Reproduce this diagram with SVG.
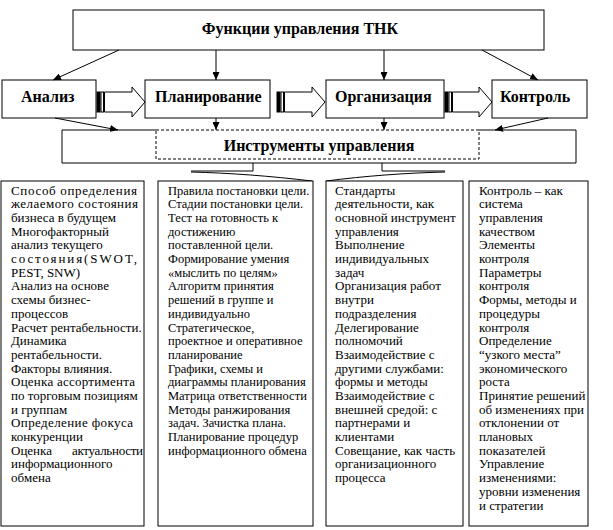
<svg xmlns="http://www.w3.org/2000/svg" width="613" height="530" viewBox="0 0 613 530">
<defs>
<marker id="ah" markerUnits="userSpaceOnUse" markerWidth="8" markerHeight="7" refX="8" refY="3.5" orient="auto">
<path d="M0,0 L8,3.5 L0,7 z" fill="#000"/>
</marker>
<style>
.box{fill:#fff;stroke:#000;stroke-width:1}
.ln{fill:none;stroke:#000;stroke-width:1}
.arr{fill:none;stroke:#000;stroke-width:1;marker-end:url(#ah)}
.h{font-weight:bold;font-size:16px;fill:#000}
.t{font-size:13px;fill:#000}
.t2{font-size:12.5px;fill:#000}
.blk{fill:#000;stroke:#000;stroke-width:1}
</style>
</defs>
<rect width="613" height="530" fill="#fff"/>

<g font-family="'Liberation Serif', 'DejaVu Serif', serif">
<g id="title">
<rect class="box" x="73" y="10" width="471" height="40"/>
<text class="h" x="300" y="34" text-anchor="middle">Функции управления ТНК</text>
</g>

<g id="analiz">
<rect class="box" x="2" y="80" width="94" height="38"/>
<text class="h" x="21" y="102">Анализ</text>
</g>
<g id="planirovanie">
<rect class="box" x="145" y="80" width="125" height="38"/>
<text class="h" x="155" y="102">Планирование</text>
</g>
<g id="organizaciya">
<rect class="box" x="326" y="80" width="118" height="38"/>
<text class="h" x="335" y="102">Организация</text>
</g>
<g id="kontrol">
<rect class="box" x="492" y="80" width="95" height="38"/>
<text class="h" x="500" y="102">Контроль</text>
</g>

<g id="instrumenty">
<path class="ln" d="M156,130 H62 V163 H576 V130 H479"/>
<rect x="156" y="130" width="323" height="29" fill="#fff" stroke="#000" stroke-width="1" stroke-dasharray="3 2"/>
<text class="h" x="319" y="151" text-anchor="middle">Инструменты управления</text>
</g>

<g id="connectors">
<line class="arr" x1="119" y1="50" x2="53" y2="80"/>
<line class="arr" x1="216" y1="50" x2="216" y2="80"/>
<line class="arr" x1="384" y1="50" x2="384" y2="80"/>
<line class="arr" x1="482" y1="50" x2="538" y2="80"/>
<line class="arr" x1="55" y1="118" x2="118" y2="130"/>
<line class="arr" x1="216" y1="118" x2="216" y2="130"/>
<line class="arr" x1="384" y1="118" x2="384" y2="130"/>
<line class="arr" x1="548" y1="118" x2="495" y2="130"/>
<g id="striped1">
<rect class="blk" x="97" y="92" width="3" height="20"/>
<rect class="box" x="101" y="92" width="2.5" height="20"/>
<path class="box" d="M104.5,92 H132 V87 L145,102 L132,117 V112 H104.5 Z"/>
</g>
<g id="striped2">
<rect class="blk" x="277" y="92" width="3" height="20"/>
<rect class="box" x="281" y="92" width="2.5" height="20"/>
<path class="box" d="M284.5,92 H312 V87 L325,102 L312,117 V112 H284.5 Z"/>
</g>
<g id="striped3">
<rect class="blk" x="445" y="92" width="3" height="20"/>
<rect class="box" x="449" y="92" width="2.5" height="20"/>
<path class="box" d="M452.5,92 H479 V87 L492,102 L479,117 V112 H452.5 Z"/>
</g>
<path class="ln" d="M253,163 V171 H191 M191,172 C230,173 270,176 312,181"/>
<path class="ln" d="M382,163 V171 H445 M445,172 C405,173 365,176 326,181"/>
</g>

<g id="col1">
<rect class="box" x="1" y="181" width="143" height="345"/>
<text class="t" x="11" y="194.5"><tspan x="11" textLength="126" lengthAdjust="spacing">Способ определения</tspan><tspan x="11" dy="13.7" textLength="127" lengthAdjust="spacing">желаемого состояния</tspan><tspan x="11" dy="13.7">бизнеса в будущем</tspan><tspan x="11" dy="13.7">Многофакторный</tspan><tspan x="11" dy="13.7">анализ текущего</tspan><tspan x="11" dy="13.7" textLength="126" lengthAdjust="spacing">состояния(SWOT,</tspan><tspan x="11" dy="13.7">PEST, SNW)</tspan><tspan x="11" dy="13.7">Анализ на основе</tspan><tspan x="11" dy="13.7">схемы бизнес-</tspan><tspan x="11" dy="13.7">процессов</tspan><tspan x="11" dy="13.7">Расчет рентабельности.</tspan><tspan x="11" dy="13.7">Динамика</tspan><tspan x="11" dy="13.7">рентабельности.</tspan><tspan x="11" dy="13.7">Факторы влияния.</tspan><tspan x="11" dy="13.7" textLength="124" lengthAdjust="spacing">Оценка ассортимента</tspan><tspan x="11" dy="13.7">по торговым позициям</tspan><tspan x="11" dy="13.7">и группам</tspan><tspan x="11" dy="13.7" textLength="122" lengthAdjust="spacing">Определение фокуса</tspan><tspan x="11" dy="13.7">конкуренции</tspan><tspan x="11" dy="13.7">Оценка </tspan><tspan x="72" textLength="71" lengthAdjust="spacing">актуальности</tspan><tspan x="11" dy="13.7">информационного</tspan><tspan x="11" dy="13.7">обмена</tspan></text>
</g>

<g id="col2">
<rect class="box" x="158" y="181" width="155" height="345"/>
<text class="t2" x="168" y="194.5"><tspan x="168">Правила постановки цели.</tspan><tspan x="168" dy="13.7">Стадии постановки цели.</tspan><tspan x="168" dy="13.7">Тест на готовность к</tspan><tspan x="168" dy="13.7">достижению</tspan><tspan x="168" dy="13.7">поставленной цели.</tspan><tspan x="168" dy="13.7">Формирование умения</tspan><tspan x="168" dy="13.7">«мыслить по целям»</tspan><tspan x="168" dy="13.7">Алгоритм принятия</tspan><tspan x="168" dy="13.7">решений в группе и</tspan><tspan x="168" dy="13.7">индивидуально</tspan><tspan x="168" dy="13.7">Стратегическое,</tspan><tspan x="168" dy="13.7">проектное и оперативное</tspan><tspan x="168" dy="13.7">планирование</tspan><tspan x="168" dy="13.7">Графики, схемы и</tspan><tspan x="168" dy="13.7">диаграммы планирования</tspan><tspan x="168" dy="13.7">Матрица ответственности</tspan><tspan x="168" dy="13.7">Методы ранжирования</tspan><tspan x="168" dy="13.7">задач. Зачистка плана.</tspan><tspan x="168" dy="13.7">Планирование процедур</tspan><tspan x="168" dy="13.7">информационного обмена</tspan></text>
</g>

<g id="col3">
<rect class="box" x="326" y="181" width="137" height="345"/>
<text class="t" x="335" y="194.5"><tspan x="335">Стандарты</tspan><tspan x="335" dy="13.7">деятельности, как</tspan><tspan x="335" dy="13.7">основной инструмент</tspan><tspan x="335" dy="13.7">управления</tspan><tspan x="335" dy="13.7">Выполнение</tspan><tspan x="335" dy="13.7">индивидуальных</tspan><tspan x="335" dy="13.7">задач</tspan><tspan x="335" dy="13.7">Организация работ</tspan><tspan x="335" dy="13.7">внутри</tspan><tspan x="335" dy="13.7">подразделения</tspan><tspan x="335" dy="13.7">Делегирование</tspan><tspan x="335" dy="13.7">полномочий</tspan><tspan x="335" dy="13.7">Взаимодействие с</tspan><tspan x="335" dy="13.7">другими службами:</tspan><tspan x="335" dy="13.7">формы и методы</tspan><tspan x="335" dy="13.7">Взаимодействие с</tspan><tspan x="335" dy="13.7">внешней средой: с</tspan><tspan x="335" dy="13.7">партнерами и</tspan><tspan x="335" dy="13.7">клиентами</tspan><tspan x="335" dy="13.7">Совещание, как часть</tspan><tspan x="335" dy="13.7">организационного</tspan><tspan x="335" dy="13.7">процесса</tspan></text>
</g>

<g id="col4">
<rect class="box" x="469" y="181" width="119" height="345"/>
<text class="t" x="479" y="194.5"><tspan x="479">Контроль – как</tspan><tspan x="479" dy="13.7">система</tspan><tspan x="479" dy="13.7">управления</tspan><tspan x="479" dy="13.7">качеством</tspan><tspan x="479" dy="13.7">Элементы</tspan><tspan x="479" dy="13.7">контроля</tspan><tspan x="479" dy="13.7">Параметры</tspan><tspan x="479" dy="13.7">контроля</tspan><tspan x="479" dy="13.7">Формы, методы и</tspan><tspan x="479" dy="13.7">процедуры</tspan><tspan x="479" dy="13.7">контроля</tspan><tspan x="479" dy="13.7">Определение</tspan><tspan x="479" dy="13.7">“узкого места”</tspan><tspan x="479" dy="13.7">экономического</tspan><tspan x="479" dy="13.7">роста</tspan><tspan x="479" dy="13.7">Принятие решений</tspan><tspan x="479" dy="13.7">об изменениях при</tspan><tspan x="479" dy="13.7">отклонении от</tspan><tspan x="479" dy="13.7">плановых</tspan><tspan x="479" dy="13.7">показателей</tspan><tspan x="479" dy="13.7">Управление</tspan><tspan x="479" dy="13.7">изменениями:</tspan><tspan x="479" dy="13.7">уровни изменения</tspan><tspan x="479" dy="13.7">и стратегии</tspan></text>
</g>
</g>
</svg>
